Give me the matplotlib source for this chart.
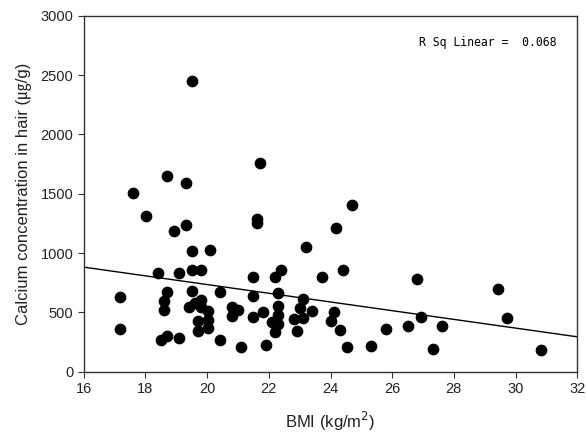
import numpy as np
import matplotlib.pyplot as plt

bmi = [18.01, 19.31, 18.91, 21.62, 21.62, 24.18, 19.52, 20.10, 23.21, 18.40,
       19.10, 19.52, 19.81, 21.50, 22.20, 22.41, 23.72, 17.19, 18.71, 19.52,
       20.42, 18.61, 18.61, 21.50, 22.31, 23.12, 19.40, 19.60, 19.81, 19.81,
       20.02, 20.02, 20.02, 19.70, 19.70, 18.50, 18.71, 19.10, 17.19, 20.79,
       21.01, 20.79, 20.42, 21.11, 21.50, 21.81, 21.91, 22.10, 22.31, 22.31,
       22.31, 22.20, 22.81, 22.92, 23.00, 23.12, 23.41, 24.02, 24.12, 24.31,
       19.51, 21.71, 18.71, 19.30, 17.60, 24.71, 24.41, 26.81, 29.43, 24.53,
       25.32, 25.81, 26.51, 26.93, 27.62, 27.32, 29.72, 30.83]
calcium = [1315, 1239, 1188, 1287, 1258, 1208, 1017, 1025, 1048, 829,
           834, 859, 859, 801, 803, 859, 795, 632, 674, 680,
           674, 598, 522, 643, 668, 612, 545, 579, 601, 545,
           511, 438, 368, 424, 340, 270, 298, 289, 360, 550,
           517, 472, 270, 205, 466, 506, 228, 421, 556, 480,
           399, 337, 449, 345, 539, 452, 514, 424, 508, 354,
           2455, 1761, 1652, 1590, 1506, 1402, 857, 781, 699, 208,
           219, 357, 388, 466, 388, 188, 452, 183]

fit_x = [16, 32]
fit_y = [882, 295]

plt.rcParams['font.family'] = ['Liberation Sans', 'Noto Sans CJK KR', 'DejaVu Sans']

fig = plt.figure(figsize=(5.86, 4.4), dpi=100)
ax = fig.add_axes([0.143, 0.155, 0.842, 0.809])

ax.plot(fit_x, fit_y, color='black', linewidth=1)
ax.scatter(bmi, calcium, s=55, color='black', zorder=3)

ax.set_xlim(16, 32)
ax.set_ylim(0, 3000)
ax.set_xticks(range(16, 33, 2))
ax.set_yticks(range(0, 3001, 500))
ax.tick_params(direction='out', length=4, labelsize=10.5, top=False, right=False,
               colors='#333333', labelcolor='#222222')
for sp in ax.spines.values():
    sp.set_linewidth(1)
    sp.set_color('#333333')

ax.set_xlabel('BMI (kg/m$^2$)', fontsize=12, labelpad=10, color='#222222')
ax.set_ylabel('Calcium concentration in hair (\u338d/g)', fontsize=12, labelpad=6,
              color='#222222')
ax.text(0.958, 0.925, 'R Sq Linear =  0.068', transform=ax.transAxes,
        ha='right', va='center', fontsize=8.3, family='DejaVu Sans Mono')

fig.savefig('out.png', dpi=100)
